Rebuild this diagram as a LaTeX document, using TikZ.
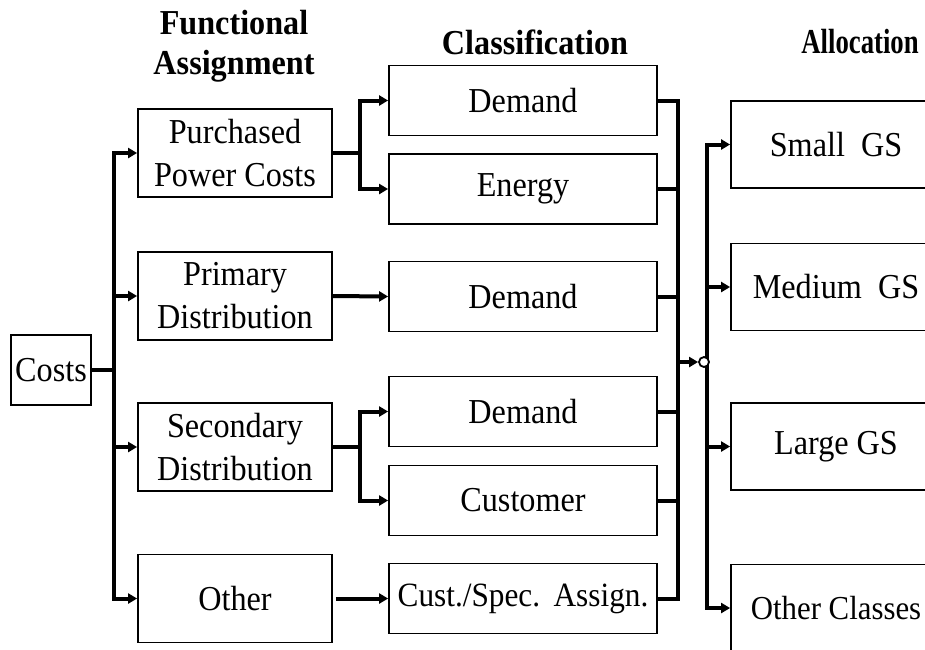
\documentclass[tikz,border=0pt]{standalone}
\usepackage{fontspec}
\setmainfont{Liberation Serif}[FakeStretch=0.92]
\usetikzlibrary{arrows.meta}
\begin{document}
\begin{tikzpicture}[x=1pt,y=-1pt,
  txt/.style={font=\fontsize{35}{43}\selectfont},
  hdr/.style={font=\fontsize{35}{40}\selectfont\bfseries, align=center, inner sep=0pt},
  basebox/.style={draw, line width=1.8pt, inner sep=0pt, align=center, txt},
  fbox/.style={basebox, minimum width=194pt, minimum height=88pt},
  cbox/.style={basebox, minimum width=268pt, minimum height=70pt},
  abox/.style={basebox, minimum width=210pt, minimum height=87pt},
  conn/.style={line width=4pt, line join=miter},
  arr/.style={conn, -{Triangle[length=9pt,width=10pt]}}]
\useasboundingbox (0,0) rectangle (925,649);
\clip (0,0) rectangle (925,649);

% headers
\node[hdr] (h1) at (234,46) {Functional\\Assignment};
\node[hdr] (h2) at (535,42) {Classification};
\node[hdr] (h3) at (860,42) {\scalebox{0.83}[1]{Allocation}};

% source
\node[basebox, minimum width=80pt, minimum height=70pt] (costs) at (51,370) {Costs};

% functional assignment
\node[fbox] (pp) at (235,153) {Purchased\\Power Costs};
\node[fbox] (pd) at (235,296) {Primary\\Distribution};
\node[fbox] (sd) at (235,447) {Secondary\\Distribution};
\node[fbox] (ot) at (235,598.5) {Other};

% classification
\node[cbox] (d1) at (523,100.5) {Demand};
\node[cbox] (en) at (523,189) {Energy};
\node[cbox] (d2) at (523,296.5) {Demand};
\node[cbox] (d3) at (523,411.5) {Demand};
\node[cbox] (cu) at (523,500.5) {Customer};
\node[cbox] (cs) at (523,598.5) {\fontsize{34}{43}\selectfont Cust./Spec.\ \,Assign.};

% allocation
\node[abox] (sg) at (836,144.5) {Small\ \ GS};
\node[abox] (mg) at (836,287) {Medium\ \ GS};
\node[abox] (lg) at (836,446.5) {Large GS};
\node[abox] (oc) at (836,608) {\fontsize{33.5}{43}\selectfont Other Classes};

% costs -> functional
\coordinate (b1) at (114,370);
\draw[conn] (costs.east) -- (b1);
\draw[arr] (b1) |- (pp.west);
\draw[arr] (b1) |- (pd.west);
\draw[arr] (b1) |- (sd.west);
\draw[arr] (b1) |- (ot.west);

% functional -> classification
\coordinate (j1) at (360,153);
\draw[conn] (pp.east) -- (j1);
\draw[arr] (j1) |- (d1.west);
\draw[arr] (j1) |- (en.west);
\draw[arr] (pd.east) -- (d2.west);
\coordinate (j2) at (360,447);
\draw[conn] (sd.east) -- (j2);
\draw[arr] (j2) |- (d3.west);
\draw[arr] (j2) |- (cu.west);
\draw[arr, shorten <=3pt] (ot.east) -- (cs.west);

% classification -> collector
\coordinate (m) at (678,362);
\draw[conn] (d1.east) -| (m);
\draw[conn] (en.east) -| (m);
\draw[conn] (d2.east) -| (m);
\draw[conn] (d3.east) -| (m);
\draw[conn] (cu.east) -| (m);
\draw[conn] (cs.east) -| (m);

% distributor -> allocation
\coordinate (n) at (707,362);
\draw[arr] (n) |- (sg.west);
\draw[arr] (n) |- (mg.west);
\draw[arr] (n) |- (lg.west);
\draw[arr] (n) |- (oc.west);

\node[circle, draw, fill=white, line width=1.8pt, minimum size=10pt, inner sep=0pt] (ci) at (704,362) {};
\draw[arr] (m) -- (ci.west);
\end{tikzpicture}
\end{document}
